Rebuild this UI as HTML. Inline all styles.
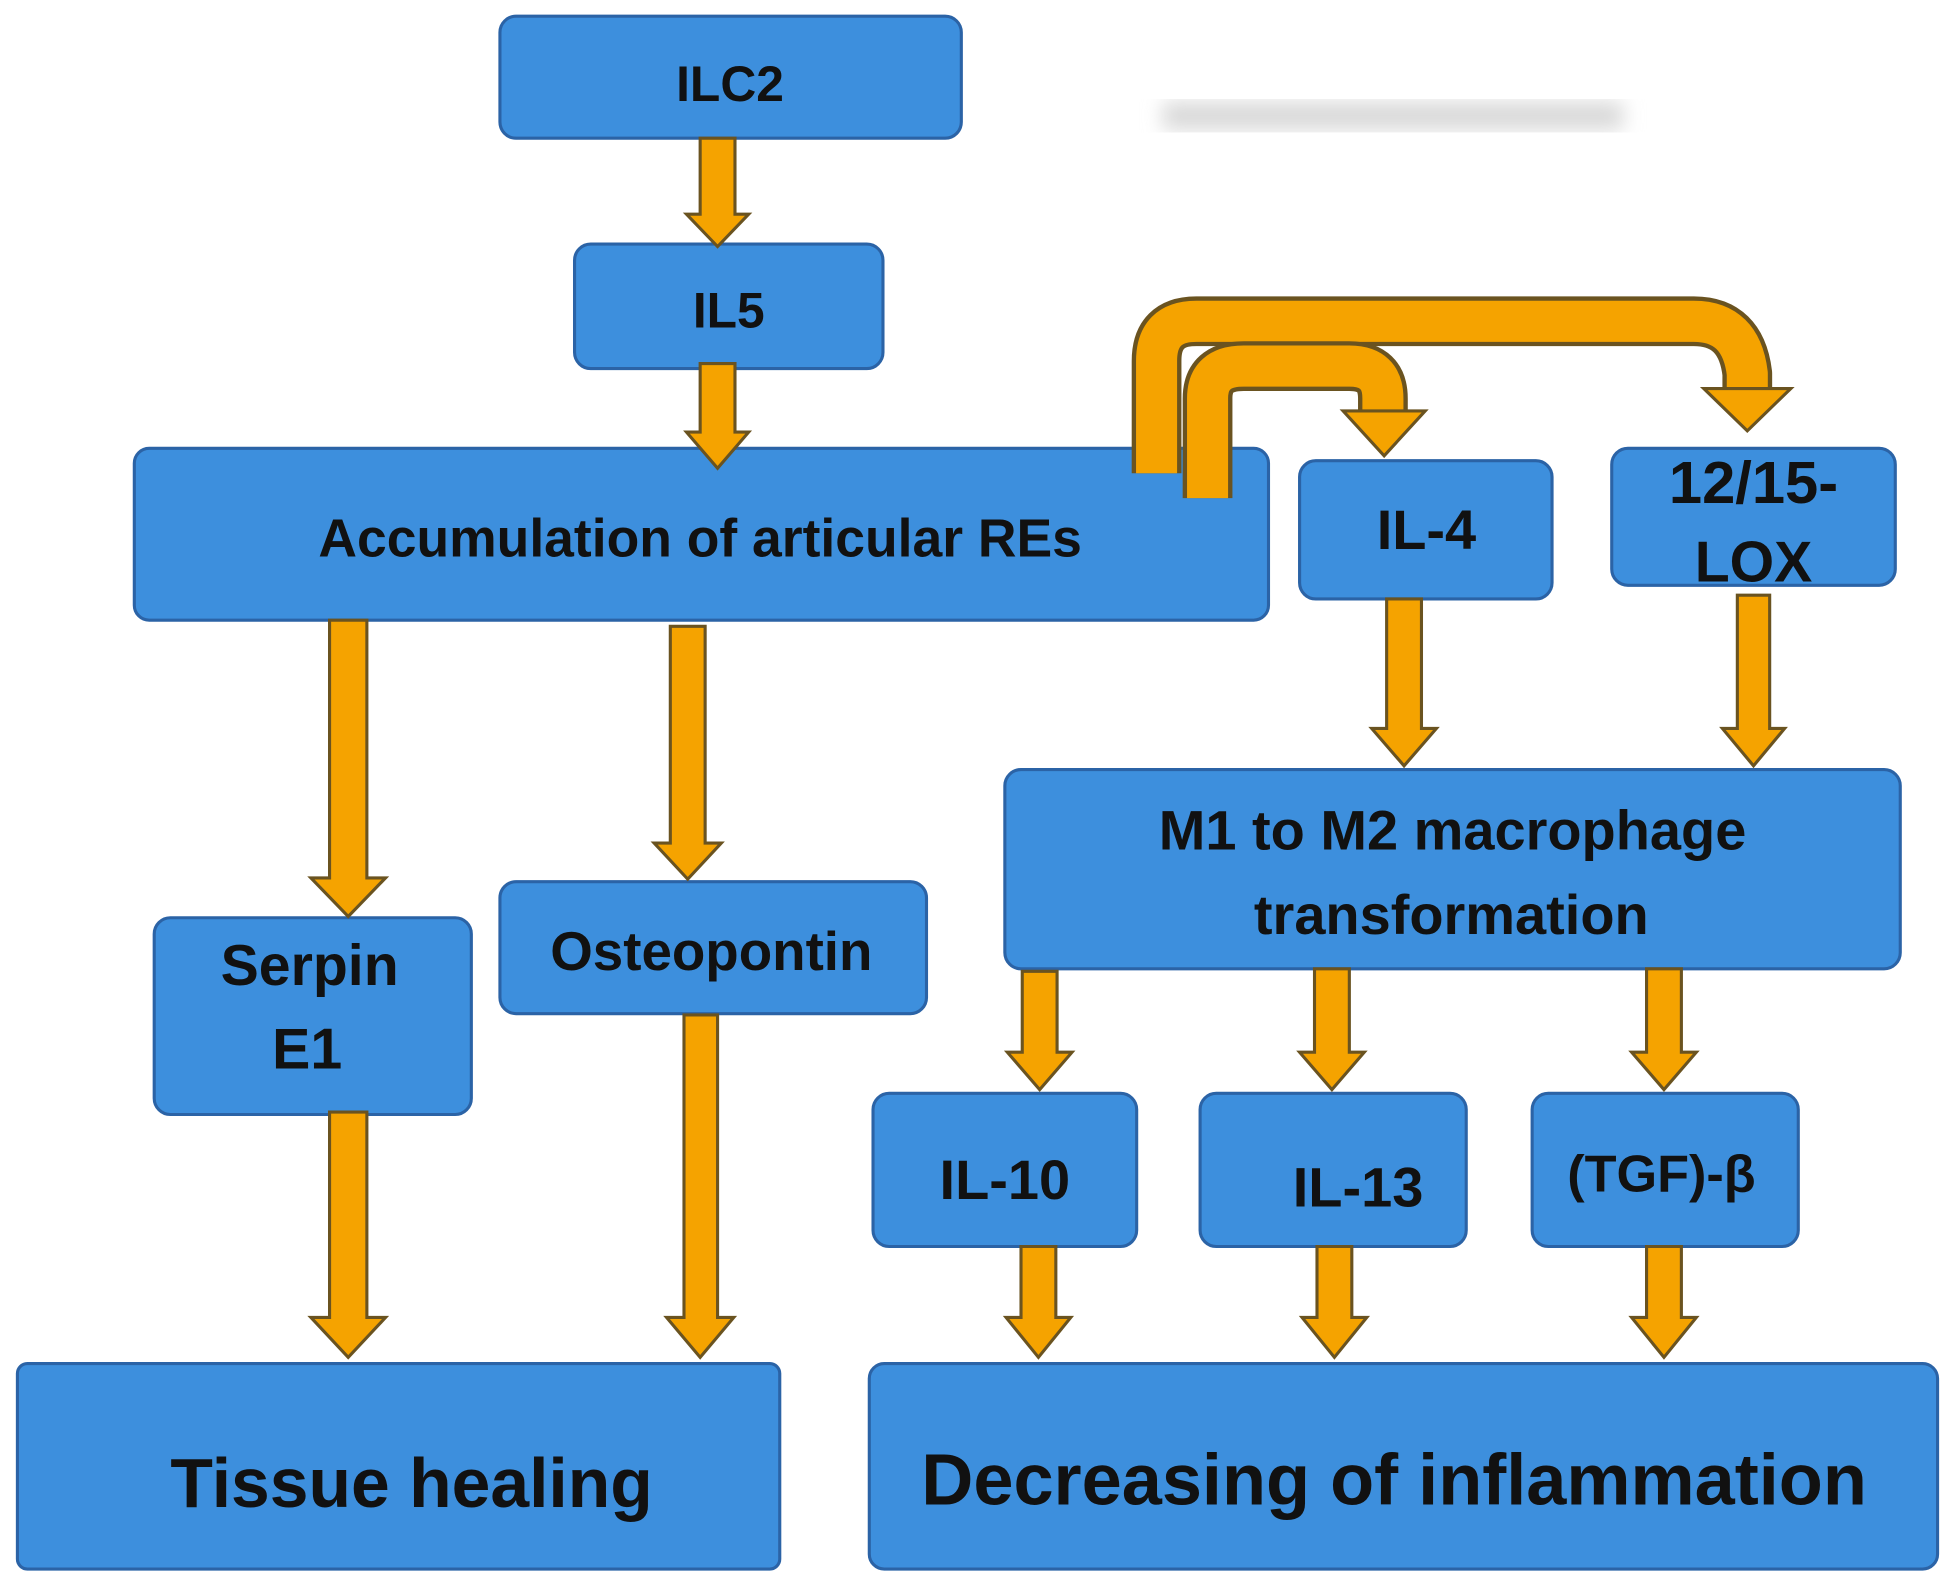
<!DOCTYPE html>
<html><head><meta charset="utf-8"><style>
html,body{margin:0;padding:0;background:#fff;}
svg{display:block;}
text{font-family:"Liberation Sans",sans-serif;font-weight:bold;fill:#111;text-anchor:middle;}
</style></head><body>
<svg width="1950" height="1574" viewBox="0 0 1568 1264" preserveAspectRatio="none" xmlns="http://www.w3.org/2000/svg">
<defs>
<filter id="bl"><feGaussianBlur stdDeviation="8"/></filter>
</defs>
<rect x="935" y="82" width="370" height="22" fill="#d8d8d8" filter="url(#bl)"/>
<g fill="#3d8fdd" stroke="#2b63a6" stroke-width="2.5">
<rect x="402" y="13" width="371" height="98" rx="13"/>
<rect x="462" y="196" width="248" height="100" rx="13"/>
<rect x="108" y="360" width="912" height="138" rx="12"/>
<rect x="1045" y="370" width="203" height="111" rx="13"/>
<rect x="1296" y="360" width="228" height="110" rx="13"/>
<rect x="124" y="737" width="255" height="158" rx="13"/>
<rect x="402" y="708" width="343" height="106" rx="13"/>
<rect x="808" y="618" width="720" height="160" rx="13"/>
<rect x="702" y="878" width="212" height="123" rx="13"/>
<rect x="965" y="878" width="214" height="123" rx="13"/>
<rect x="1232" y="878" width="214" height="123" rx="13"/>
<rect x="14" y="1095" width="613" height="165" rx="8"/>
<rect x="699" y="1095" width="859" height="165" rx="12"/>
</g>
<g fill="none" stroke-linejoin="round">
<path d="M930 380 V290 Q930 258 962 258 H1362 Q1400 258 1405 300 V315" stroke="#6a5320" stroke-width="40"/>
<path d="M930 380 V290 Q930 258 962 258 H1362 Q1400 258 1405 300 V315" stroke="#f5a300" stroke-width="33"/>
<path d="M971 400 V320 Q971 294 1000 294 H1085 Q1112 294 1112 320 V332" stroke="#6a5320" stroke-width="40"/>
<path d="M971 400 V320 Q971 294 1000 294 H1085 Q1112 294 1112 320 V332" stroke="#f5a300" stroke-width="33"/>
</g>
<g fill="#f5a300" stroke="#6a5320" stroke-width="2.5">
<polygon points="1370,312 1440,312 1405,346"/>
<polygon points="1080,330 1146,330 1113,366"/>
</g>
<g fill="#f5a300" stroke="#6a5320" stroke-width="2.5">
<polygon points="563,111 591,111 591,172 602,172 577,198 552,172 563,172"/>
<polygon points="563,292 591,292 591,347 602,347 577,376 552,347 563,347"/>
<polygon points="265,498 295,498 295,705 310,705 280,736 250,705 265,705"/>
<polygon points="539,503 567,503 567,677 580,677 553,706 526,677 539,677"/>
<polygon points="265,893 295,893 295,1058 310,1058 280,1090 250,1058 265,1058"/>
<polygon points="550,815 577,815 577,1058 590,1058 563,1090 536,1058 550,1058"/>
<polygon points="1115,481 1143,481 1143,585 1155,585 1129,615 1103,585 1115,585"/>
<polygon points="1397,478 1423,478 1423,585 1435,585 1410,615 1385,585 1397,585"/>
<polygon points="822,780 850,780 850,845 862,845 836,875 810,845 822,845"/>
<polygon points="1057,778 1085,778 1085,845 1097,845 1071,875 1045,845 1057,845"/>
<polygon points="1324,778 1352,778 1352,845 1364,845 1338,875 1312,845 1324,845"/>
<polygon points="821,1001 849,1001 849,1058 861,1058 835,1090 809,1058 821,1058"/>
<polygon points="1059,1001 1087,1001 1087,1058 1099,1058 1073,1090 1047,1058 1059,1058"/>
<polygon points="1324,1001 1352,1001 1352,1058 1364,1058 1338,1090 1312,1058 1324,1058"/>
</g>
<text x="587" y="81" font-size="40">ILC2</text>
<text x="586" y="263" font-size="40">IL5</text>
<text x="563" y="447" font-size="43">Accumulation of articular REs</text>
<text x="1147" y="441" font-size="45">IL-4</text>
<text x="1410" y="404" font-size="48">12/15-</text>
<text x="1410" y="467" font-size="46">LOX</text>
<text x="249" y="791" font-size="46">Serpin</text>
<text x="247" y="858" font-size="46">E1</text>
<text x="572" y="779" font-size="44">Osteopontin</text>
<text x="1168" y="682" font-size="45">M1 to M2 macrophage</text>
<text x="1167" y="750" font-size="45">transformation</text>
<text x="808" y="963" font-size="45">IL-10</text>
<text x="1092" y="969" font-size="45">IL-13</text>
<text x="1336" y="957" font-size="42">(TGF)-β</text>
<text x="331" y="1210" font-size="56">Tissue healing</text>
<text x="1121" y="1208" font-size="58">Decreasing of inflammation</text>
</svg>
</body></html>
